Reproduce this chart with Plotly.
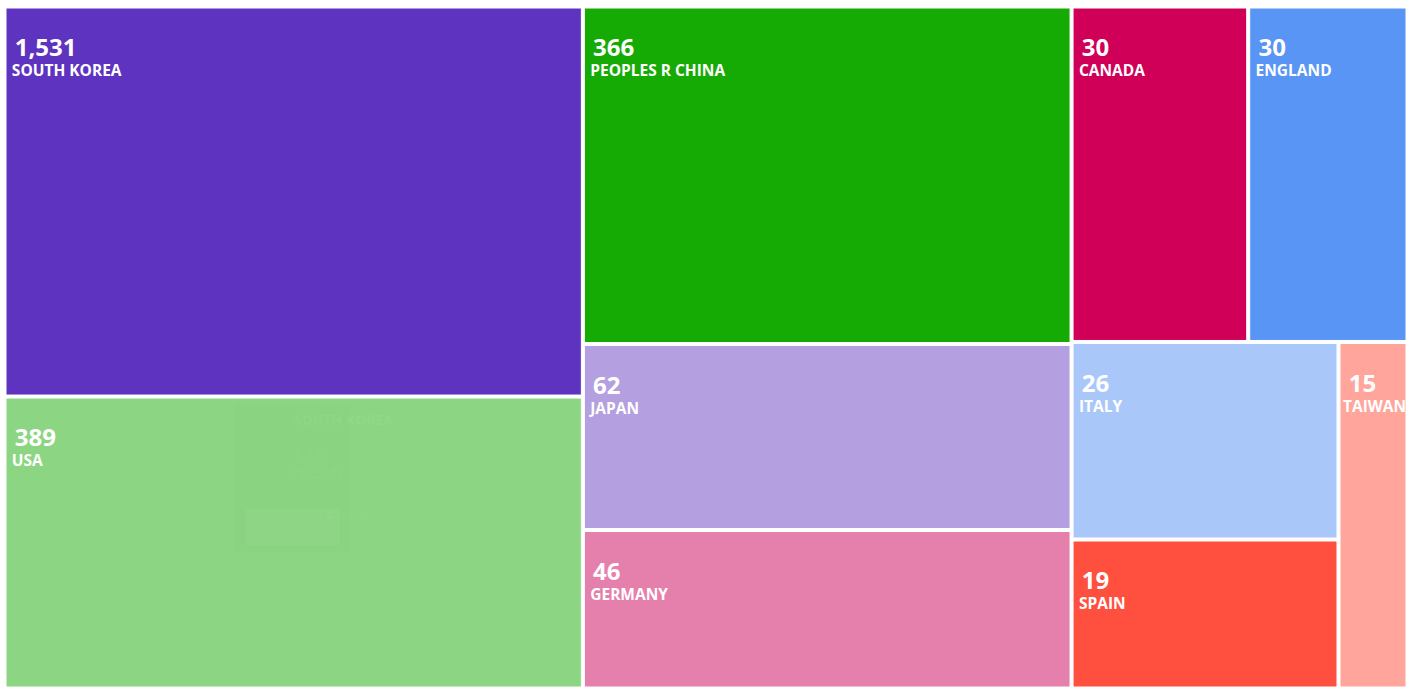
import plotly.graph_objects as go

# ---- data ----
countries = ["SOUTH KOREA", "USA", "PEOPLES R CHINA", "JAPAN", "GERMANY",
             "CANADA", "ENGLAND", "ITALY", "SPAIN", "TAIWAN"]
records = [1531, 389, 366, 62, 46, 30, 30, 26, 19, 15]
# relative tile areas as measured on the picture (tiles are not proportional to records)
tile_weights = [2246, 1681, 1642, 905, 771, 590, 532, 525, 396, 238]
colors = ["#5e33bf", "#8cd683", "#16ab04", "#b49fe0", "#e57fac",
          "#d00059", "#5895f5", "#aac7f9", "#ff4f3e", "#ffa59b"]
# layout groups (columns / rows of the mosaic)
group_of = ["colA", "colA", "colB", "colB", "colB",
            "rowC1", "rowC1", "colC2a", "colC2a", "rowC2"]
groups = ["colA", "colB", "colC", "rowC1", "rowC2", "colC2a"]
group_parent = ["", "", "", "colC", "colC", "rowC2"]

# ---- build the hierarchy ----
ids, labels, parents, values, mcolors, texts = [], [], [], [], [], []
for g, p in zip(groups, group_parent):
    ids.append(g); labels.append(""); parents.append(p); values.append(0)
    mcolors.append("white"); texts.append("")
for name, rec, w, c, g in zip(countries, records, tile_weights, colors, group_of):
    ids.append(name); labels.append(name); parents.append(g); values.append(w)
    mcolors.append(c)
    indent = "" if name == "TAIWAN" else "<span style='font-size:11px'> </span>"
    texts.append(
        "<span style='font-size:23px'>&nbsp;</span><br>"
        "<span style='font-size:22px'> </span><span style='font-size:24px'>%s</span><br>"
        "%s%s" % (f"{rec:,}", indent, name))

# put Taiwan after the Italy/Spain column inside rowC2
order = ids.index("TAIWAN")
for arr in (ids, labels, parents, values, mcolors, texts):
    arr.append(arr.pop(order))

fig = go.Figure(go.Treemap(
    ids=ids, labels=labels, parents=parents, values=values,
    branchvalues="remainder", sort=False,
    marker=dict(colors=mcolors, line=dict(color="white", width=1),
                pad=dict(t=0, l=0, r=0, b=0)),
    tiling=dict(packing="slice-dice", pad=3),
    texttemplate=texts,
    textposition="top left",
    textfont=dict(family="Open Sans", size=15.5, color="white", weight="bold"),
    pathbar=dict(visible=False),
    hoverinfo="skip",
))

# faint ghost of a fading tooltip inside the USA tile
H = 679.0
fig.add_shape(type="rect", xref="paper", yref="paper",
              x0=(235 - 6) / 1400, x1=(350 - 6) / 1400,
              y0=(687 - 552) / H, y1=(687 - 405) / H,
              fillcolor="rgba(0,0,0,0.008)", line=dict(width=0))
fig.add_shape(type="rect", xref="paper", yref="paper",
              x0=(246 - 6) / 1400, x1=(340 - 6) / 1400,
              y0=(687 - 545) / H, y1=(687 - 509) / H,
              fillcolor="rgba(255,255,255,0.035)", line=dict(width=0))
ghost = [("SOUTH KOREA", 419, 14, "bold"), ("1,531", 467, 14, "normal"),
         ("records", 484, 14, "normal"), ("View Records", 527, 13, "normal")]
for t, yy, fs, wt in ghost:
    fig.add_annotation(text=t, xref="paper", yref="paper",
                       x=(292 - 6) / 1400, y=(687 - yy) / H,
                       showarrow=False,
                       font=dict(family="Open Sans", size=fs, weight=wt,
                                 color="rgba(255,255,255,0.06)"))

fig.update_layout(
    width=1411, height=689,
    margin=dict(l=6, r=5, t=8, b=2),
    paper_bgcolor="white",
    uniformtext=dict(minsize=15.5, mode="show"),
)

fig.write_html("out.html", config={"displayModeBar": False},
               post_script="document.body.style.margin='0';")
